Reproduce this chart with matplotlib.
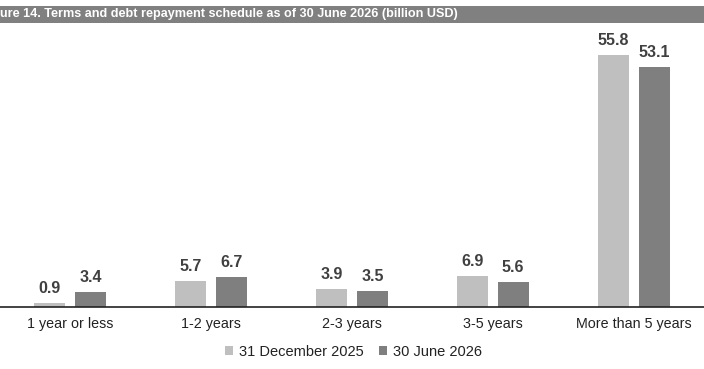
import numpy as np
import matplotlib.pyplot as plt
from matplotlib.patches import Rectangle

# Data
categories = ['1 year or less', '1-2 years', '2-3 years', '3-5 years', 'More than 5 years']
dec_2025 = [0.9, 5.7, 3.9, 6.9, 55.8]
jun_2026 = [3.4, 6.7, 3.5, 5.6, 53.1]
series_names = ['31 December 2025', '30 June 2026']
title = 'ure 14. Terms and debt repayment schedule as of 30 June 2026 (billion USD)'

plt.rcParams['font.family'] = ['Liberation Sans', 'DejaVu Sans']

fig = plt.figure(figsize=(7.04, 3.69), dpi=100)

# gray title band
fig.patches.append(Rectangle((0, 1 - 23 / 369), 1, 17 / 369, transform=fig.transFigure,
                             facecolor='#808080', edgecolor='none', zorder=0))
fig.text(0.0, 1 - 14.5 / 369, title, color='white', fontsize=9.1, fontweight='bold',
         va='center', ha='left')

ax = fig.add_axes([0, 1 - 307 / 369, 1, (307 - 40) / 369])

x = np.arange(len(categories))
w = 0.22
off = 0.145
b1 = ax.bar(x - off, dec_2025, w, color='#bfbfbf', label=series_names[0])
b2 = ax.bar(x + off, jun_2026, w, color='#7f7f7f', label=series_names[1])

for bars, vals in [(b1, dec_2025), (b2, jun_2026)]:
    for b, v in zip(bars, vals):
        ax.annotate(f'{v:.1f}', (b.get_x() + b.get_width() / 2, v), xytext=(0, 5),
                    textcoords='offset points', ha='center', va='bottom',
                    fontsize=11.5, fontweight='bold', color='#404040')

ax.set_xlim(-0.5, 4.5)
ax.set_ylim(0, 59.1)
ax.set_yticks([])
ax.set_xticks(x)
ax.set_xticklabels(categories, fontsize=10.3, color='#222222')
ax.tick_params(axis='x', length=0, pad=7)
for s in ['top', 'right', 'left']:
    ax.spines[s].set_visible(False)
ax.spines['bottom'].set_color('#222222')
ax.spines['bottom'].set_linewidth(1.2)
ax.patch.set_visible(False)

fig.legend(handles=[b1, b2], labels=series_names, loc='center', bbox_to_anchor=(0.502, 1 - 352 / 369),
           ncol=2, frameon=False, fontsize=10.5, handlelength=0.6, handleheight=0.6,
           handletextpad=0.4, columnspacing=1.0, labelcolor='#222222')

fig.savefig('out.png', dpi=100)
